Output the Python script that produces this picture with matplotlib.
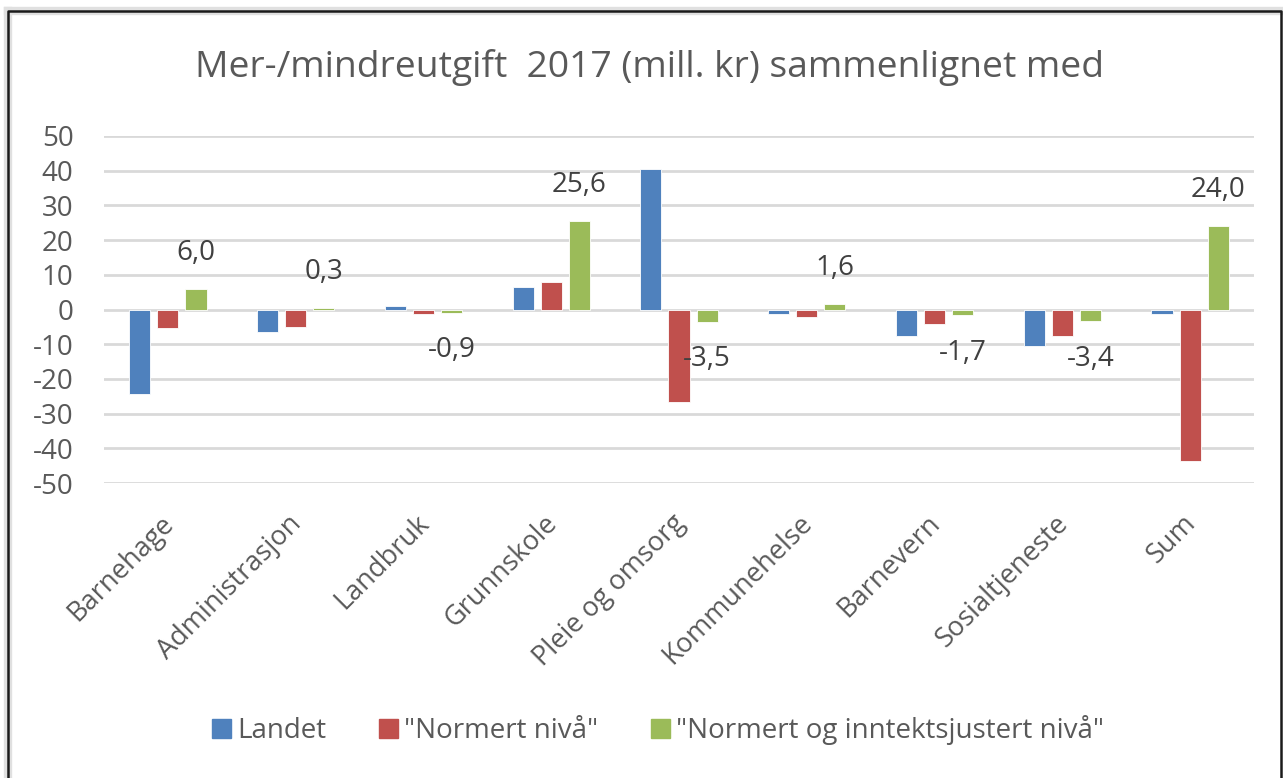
import matplotlib
matplotlib.use("Agg")
import matplotlib.pyplot as plt
import matplotlib.transforms as mtransforms
import numpy as np
from matplotlib.lines import Line2D

categories = ["Barnehage", "Administrasjon", "Landbruk", "Grunnskole", "Pleie og omsorg",
              "Kommunehelse", "Barnevern", "Sosialtjeneste", "Sum"]
landet = [-24.3, -6.6, 1.1, 6.5, 40.4, -1.2, -7.5, -10.6, -1.2]
normert = [-5.2, -5.1, -1.2, 8.0, -26.8, -2.2, -4.3, -7.5, -43.8]
normert_inntekt = [6.0, 0.3, -0.9, 25.6, -3.5, 1.6, -1.7, -3.4, 24.0]
series_names = ["Landet", "\"Normert nivå\"", "\"Normert og inntektsjustert nivå\""]
yticks = [50, 40, 30, 20, 10, 0, -10, -20, -30, -40, -50]
title = "Mer-/mindreutgift  2017 (mill. kr) sammenlignet med"

colors = ["#4F81BD", "#C0504D", "#9BBB59"]
txt = "#595959"
plt.rcParams['font.family'] = ['Open Sans', 'DejaVu Sans']

W, H = 1283, 778
fig = plt.figure(figsize=(W / 100, H / 100), dpi=100)
ax = fig.add_axes([104 / W, 1 - 483 / H, (1254 - 104) / W, (483 - 136) / H])

x = np.arange(len(categories))
bw = 0.165
sp = 0.22
for i, (vals, c) in enumerate(zip([landet, normert, normert_inntekt], colors)):
    ax.bar(x + (i - 1) * sp, vals, width=bw, color=c, edgecolor="white", linewidth=0.6,
           zorder=3, label=series_names[i])

for xi, v in zip(x, normert_inntekt):
    off = 26 if v >= 0 else -27
    ax.annotate(f"{v:.1f}".replace(".", ","), (xi + sp, v), xytext=(0, off),
                textcoords="offset points", ha="center", va="center",
                fontsize=20, color="#404040", zorder=4)

ax.set_xlim(-0.5, len(categories) - 0.5)
ax.set_ylim(-50, 50)
ax.set_yticks(yticks)
ax.set_yticklabels([str(t) for t in yticks], fontsize=20, color=txt)
ax.tick_params(axis="y", length=0, pad=22)
ax.set_xticks(x)
ax.set_xticklabels(categories, rotation=45, ha="right", rotation_mode="anchor",
                   fontsize=19.5, color=txt)
ax.tick_params(axis="x", length=0, pad=19)
shift = mtransforms.ScaledTranslation(-8 / 100, 0, fig.dpi_scale_trans)
for lbl in ax.get_xticklabels():
    lbl.set_transform(lbl.get_transform() + shift)
ax.grid(axis="y", color="#D9D9D9", linewidth=2, zorder=0)
ax.grid(axis="x", visible=False)
for s in ax.spines.values():
    s.set_visible(False)

fig.text(650 / W, 1 - 68 / H, title, ha="center", va="center", fontsize=26.8, color=txt)

handles = [plt.Rectangle((0, 0), 1, 1, color=c) for c in colors]
fig.legend(handles, series_names, loc="center", bbox_to_anchor=(658 / W, 1 - 730 / H),
           ncol=3, frameon=False, fontsize=20, labelcolor=txt, handlelength=0.68,
           handleheight=0.68, handletextpad=0.22, columnspacing=1.9)

# outer border
bx0, by0, bx1 = 8 / W, 1 - 11 / H, 1281 / W
fig.add_artist(Line2D([bx0, bx0], [0, by0], color="#E0E0E0", linewidth=6, transform=fig.transFigure))
fig.add_artist(Line2D([bx0, bx1], [by0, by0], color="#E0E0E0", linewidth=6, transform=fig.transFigure))
fig.add_artist(Line2D([bx0, bx0, bx1, bx1], [0, by0, by0, 0], color="#1a1a1a", linewidth=1.8,
                      transform=fig.transFigure))

fig.savefig("out.png", dpi=100, facecolor="white")
